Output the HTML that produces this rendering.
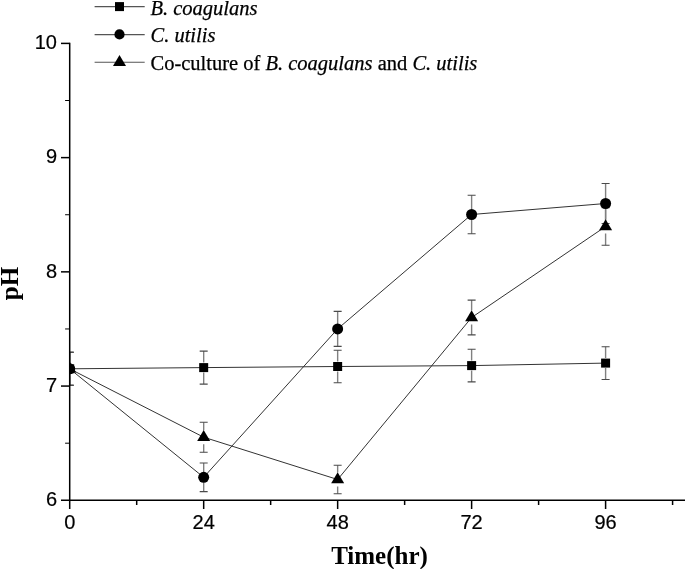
<!DOCTYPE html>
<html><head><meta charset="utf-8"><style>
html,body{margin:0;padding:0;background:#fff;width:685px;height:569px;overflow:hidden}
svg{display:block}
</style></head><body>
<svg width="685" height="569" viewBox="0 0 685 569">
<rect width="685" height="569" fill="#fff"/>
<defs><clipPath id="c"><rect x="69.7" y="0" width="700" height="500"/></clipPath></defs>
<g clip-path="url(#c)">
<g stroke="#808080" stroke-width="1.4" fill="none"><path d="M69.7 352.3V363.8M69.7 373.8V385.3"/><path d="M203.68 351.1V362.6M203.68 372.6V384.1"/><path d="M337.65 350.2V361.5M337.65 371.5V382.8"/><path d="M471.62 349.3V360.6M471.62 370.6V381.9"/><path d="M605.6 346.7V358.1M605.6 368.1V379.5"/><path d="M69.7 352.3V363.8M69.7 373.8V385.3"/><path d="M203.68 463V472.3M203.68 482.3V491.6"/><path d="M337.65 311.4V323.9M337.65 333.9V346.4"/><path d="M471.62 195.3V209.5M471.62 219.5V233.7"/><path d="M605.6 183.5V198.5M605.6 208.5V223.5"/><path d="M69.7 352.3V361.8M69.7 375.8V385.3"/><path d="M203.68 422.2V430.2M203.68 444.2V452.2"/><path d="M337.65 465.3V472.5M337.65 486.5V493.7"/><path d="M471.62 300.1V310.5M471.62 324.5V334.9"/><path d="M605.6 207.7V219.5M605.6 233.5V245.3"/></g>
<g stroke="#4a4a4a" stroke-width="1.1" fill="none"><path d="M65.7 352.3H73.7M65.7 385.3H73.7"/><path d="M199.68 351.1H207.68M199.68 384.1H207.68"/><path d="M333.65 350.2H341.65M333.65 382.8H341.65"/><path d="M467.62 349.3H475.62M467.62 381.9H475.62"/><path d="M601.6 346.7H609.6M601.6 379.5H609.6"/><path d="M65.7 352.3H73.7M65.7 385.3H73.7"/><path d="M199.68 463H207.68M199.68 491.6H207.68"/><path d="M333.65 311.4H341.65M333.65 346.4H341.65"/><path d="M467.62 195.3H475.62M467.62 233.7H475.62"/><path d="M601.6 183.5H609.6M601.6 223.5H609.6"/><path d="M65.7 352.3H73.7M65.7 385.3H73.7"/><path d="M199.68 422.2H207.68M199.68 452.2H207.68"/><path d="M333.65 465.3H341.65M333.65 493.7H341.65"/><path d="M467.62 300.1H475.62M467.62 334.9H475.62"/><path d="M601.6 207.7H609.6M601.6 245.3H609.6"/></g>
<g stroke="#333" stroke-width="1" fill="none"><path d="M69.7 368.8 L203.68 367.6 L337.65 366.5 L471.62 365.6 L605.6 363.1"/><path d="M69.7 368.8 L203.68 477.3 L337.65 328.9 L471.62 214.5 L605.6 203.5"/><path d="M69.7 368.8 L203.68 437.2 L337.65 479.5 L471.62 317.5 L605.6 226.5"/></g>
<g fill="#000"><rect x="65.2" y="364.3" width="9" height="9"/><rect x="199.18" y="363.1" width="9" height="9"/><rect x="333.15" y="362" width="9" height="9"/><rect x="467.12" y="361.1" width="9" height="9"/><rect x="601.1" y="358.6" width="9" height="9"/><circle cx="69.7" cy="368.8" r="5.5"/><circle cx="203.68" cy="477.3" r="5.5"/><circle cx="337.65" cy="328.9" r="5.5"/><circle cx="471.62" cy="214.5" r="5.5"/><circle cx="605.6" cy="203.5" r="5.5"/><path d="M69.7 361.5L76.2 372.6L63.2 372.6Z"/><path d="M203.68 429.9L210.18 441L197.18 441Z"/><path d="M337.65 472.2L344.15 483.3L331.15 483.3Z"/><path d="M471.62 310.2L478.12 321.3L465.12 321.3Z"/><path d="M605.6 219.2L612.1 230.3L599.1 230.3Z"/></g>
</g>
<g stroke="#000" stroke-width="1.5" fill="none"><path d="M69.7 42.65V508.9"/><path d="M61 500.3H685"/><path d="M61 43.4H69.7"/><path d="M61 157.62H69.7"/><path d="M61 271.85H69.7"/><path d="M61 386.07H69.7"/><path d="M203.68 500.3V509"/><path d="M337.65 500.3V509"/><path d="M471.62 500.3V509"/><path d="M605.6 500.3V509"/><path d="M136.69 500.3V505"/><path d="M270.66 500.3V505"/><path d="M404.64 500.3V505"/><path d="M538.61 500.3V505"/><path d="M672.59 500.3V505"/></g>
<g stroke="#000" stroke-width="1" fill="none"><path d="M65.1 100.51H69.7"/><path d="M65.1 214.74H69.7"/><path d="M65.1 328.96H69.7"/><path d="M65.1 443.19H69.7"/></g>
<g font-family="Liberation Sans, Arial, sans-serif" font-size="20" fill="#000" stroke="#000" stroke-width="0.2"><text x="57" y="49.2" text-anchor="end">10</text><text x="57" y="163.43" text-anchor="end">9</text><text x="57" y="277.65" text-anchor="end">8</text><text x="57" y="391.88" text-anchor="end">7</text><text x="57" y="506.1" text-anchor="end">6</text><text x="69.7" y="529" text-anchor="middle">0</text><text x="203.68" y="529" text-anchor="middle">24</text><text x="337.65" y="529" text-anchor="middle">48</text><text x="471.62" y="529" text-anchor="middle">72</text><text x="605.6" y="529" text-anchor="middle">96</text></g>

<g stroke="#555" stroke-width="1.1" fill="none"><path d="M94.6 6.6H144.7M94.6 34.6H144.7M94.6 62.2H144.7"/></g>
<g fill="#000"><rect x="115" y="2.1" width="9" height="9"/><circle cx="119.5" cy="34.4" r="5.1"/><path d="M119.5 54.9L126 66L113 66Z"/></g>
<g font-family="Liberation Serif, serif" font-size="20.5" fill="#000" stroke="#000" stroke-width="0.25">
<text x="150.5" y="14.6" font-style="italic">B. coagulans</text>
<text x="150.5" y="42.3" font-style="italic">C. utilis</text>
<text x="150.5" y="69.9">Co-culture of <tspan font-style="italic">B. coagulans</tspan> and <tspan font-style="italic">C. utilis</tspan></text>
</g>
<text x="379.5" y="564" text-anchor="middle" font-family="Liberation Serif, serif" font-weight="bold" font-size="25">Time(hr)</text>
<text transform="translate(17.6 283.6) rotate(-90)" text-anchor="middle" font-family="Liberation Serif, serif" font-weight="bold" font-size="25">pH</text>
</svg>
</body></html>
